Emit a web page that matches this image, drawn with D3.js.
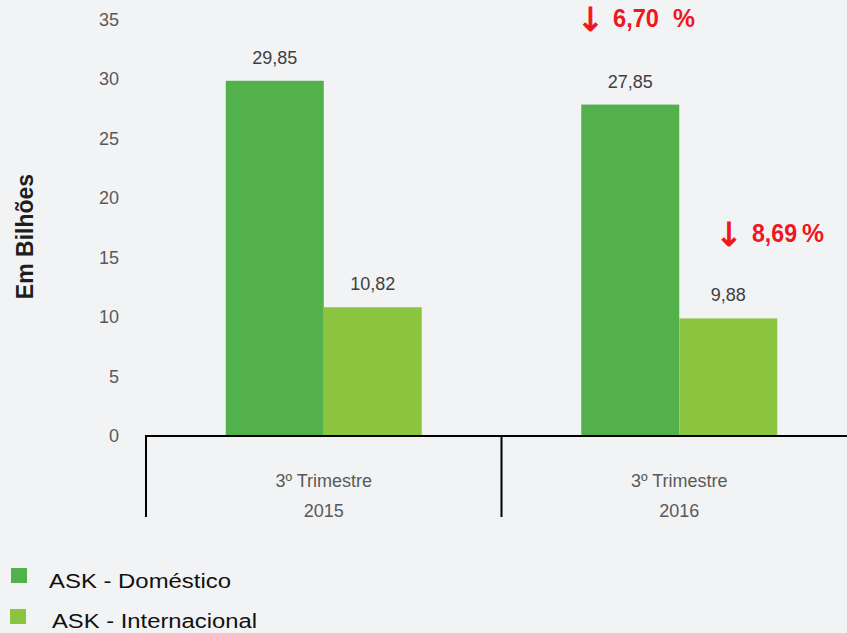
<!DOCTYPE html>
<html>
<head>
<meta charset="utf-8">
<script src="https://cdn.jsdelivr.net/npm/d3@7"></script>
<style>
  html, body { margin: 0; padding: 0; background: #f2f3f5; }
  svg { display: block; font-family: "Liberation Sans", Arial, sans-serif; }
</style>
</head>
<body>
<svg id="chart" width="847" height="633"></svg>
<script>
// ASK (available seat-kilometres), in billions, third quarter
const periods = ["2015", "2016"];
const periodLabels = ["3º Trimestre", "3º Trimestre"];
const seriesNames = ["ASK - Doméstico", "ASK - Internacional"];
const domestic = [29.85, 27.85];
const international = [10.82, 9.88];
const changes = ["6,70", "8,69"];          // drop vs. previous year, %
const yTicks = [0, 5, 10, 15, 20, 25, 30, 35];

const colors = ["#52b14a", "#8bc53f"];
const fmt = v => d3.format(".2f")(v).replace(".", ",");

const svg = d3.select("#chart");
const W = 847, H = 633;

const y = d3.scaleLinear().domain([0, 35]).range([436, 19.5]);
const x0 = d3.scaleBand().domain(periods).range([146, 857]).padding(0);
const x1 = d3.scaleBand().domain(seriesNames).range([0, x0.bandwidth()])
  .paddingInner(0).paddingOuter(0.814);

const rows = periods.map((p, i) => ({
  period: p, label: periodLabels[i],
  values: [domestic[i], international[i]]
}));

// y tick labels (no axis line)
svg.append("g").selectAll("text").data(yTicks).join("text")
  .attr("x", 119).attr("y", d => y(d)).attr("dy", "0.36em")
  .attr("text-anchor", "end").attr("font-size", 18).attr("fill", "#595959")
  .text(d => d);

// y title
svg.append("text")
  .attr("transform", `translate(33,236.5) rotate(-90)`)
  .attr("text-anchor", "middle").attr("font-size", 23).attr("font-weight", "bold")
  .attr("fill", "#1e1e1e").text("Em Bilhões");

// bars
const groups = svg.append("g").selectAll("g").data(rows).join("g")
  .attr("transform", d => `translate(${x0(d.period)},0)`);

groups.selectAll("rect").data(d => d.values.map((v, k) => ({ v, k })))
  .join("rect")
  .attr("x", d => x1(seriesNames[d.k]))
  .attr("width", x1.bandwidth())
  .attr("y", d => y(d.v))
  .attr("height", d => y(0) - y(d.v))
  .attr("fill", d => colors[d.k]);

groups.selectAll("text.val").data(d => d.values.map((v, k) => ({ v, k })))
  .join("text").attr("class", "val")
  .attr("x", d => x1(seriesNames[d.k]) + x1.bandwidth() / 2)
  .attr("y", d => y(d.v) - 17)
  .attr("text-anchor", "middle").attr("font-size", 18).attr("fill", "#404040")
  .text(d => fmt(d.v));

// category axis: baseline and separators
svg.append("line").attr("x1", 145).attr("x2", W).attr("y1", 436).attr("y2", 436)
  .attr("stroke", "#000").attr("stroke-width", 2);
svg.append("g").selectAll("line").data(periods).join("line")
  .attr("x1", d => x0(d)).attr("x2", d => x0(d))
  .attr("y1", 436).attr("y2", 517)
  .attr("stroke", "#000").attr("stroke-width", 2);

const cat = svg.append("g").selectAll("g").data(rows).join("g")
  .attr("transform", d => `translate(${x0(d.period) + x0.bandwidth() / 2},0)`);
cat.append("text").attr("y", 487).attr("text-anchor", "middle")
  .attr("font-size", 18).attr("fill", "#595959").text(d => d.label);
cat.append("text").attr("y", 517).attr("text-anchor", "middle")
  .attr("font-size", 18).attr("fill", "#595959").text(d => d.period);

// change annotations above the 2016 bars
const red = "#f0161d";
const notes = [
  { k: 0, text: changes[0], arrowX: 590.5, numX: 613, numW: 46, pctX: 673, baseY: 27 },
  { k: 1, text: changes[1], arrowX: 729, numX: 752, numW: 45, pctX: 802, baseY: 242 }
];
const ng = svg.append("g").selectAll("g").data(notes).join("g");
ng.append("text").attr("x", d => d.arrowX).attr("y", d => d.baseY + 4)
  .attr("text-anchor", "middle").attr("font-family", "DejaVu Sans")
  .attr("font-size", 33).attr("fill", red)
  .attr("stroke", red).attr("stroke-width", 0.9)
  .text("↓");
ng.append("text").attr("x", d => d.numX).attr("y", d => d.baseY)
  .attr("font-size", 26).attr("font-weight", "bold").attr("fill", red)
  .attr("textLength", d => d.numW).attr("lengthAdjust", "spacingAndGlyphs")
  .text(d => d.text);
ng.append("text").attr("x", d => d.pctX).attr("y", d => d.baseY)
  .attr("font-size", 26).attr("font-weight", "bold").attr("fill", red)
  .attr("textLength", 22).attr("lengthAdjust", "spacingAndGlyphs")
  .text("%");

// legend
const legend = [
  { name: seriesNames[0], c: colors[0], sx: 11, sy: 568, tx: 49, ty: 588, tw: 182 },
  { name: seriesNames[1], c: colors[1], sx: 10, sy: 609, tx: 52, ty: 628, tw: 205 }
];
const lg = svg.append("g").selectAll("g").data(legend).join("g");
lg.append("rect").attr("x", d => d.sx).attr("y", d => d.sy)
  .attr("width", 16).attr("height", 15).attr("fill", d => d.c);
lg.append("text").attr("x", d => d.tx).attr("y", d => d.ty)
  .attr("font-size", 20).attr("fill", "#111")
  .attr("textLength", d => d.tw).attr("lengthAdjust", "spacingAndGlyphs")
  .text(d => d.name);
</script>
</body>
</html>
